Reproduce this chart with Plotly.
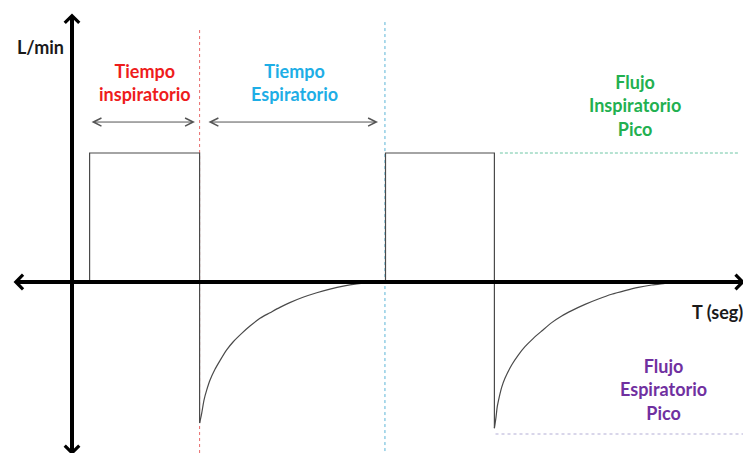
import plotly.graph_objects as go

# ---- data (time in s, flow in L/min) ----
pulse1_t = [0.16, 0.16, 1.16, 1.16]
pulse1_f = [0, 60, 60, -65.6]
decay1_t = [1.16, 1.179, 1.20, 1.225, 1.255, 1.30, 1.345, 1.406, 1.466, 1.543, 1.618,
            1.709, 1.80, 1.89, 1.98, 2.10, 2.225, 2.345, 2.466, 2.59, 2.71, 2.83]
decay1_f = [-65.6, -61.1, -54.9, -50.2, -45.6, -40.6, -36.6, -31.6, -27.8, -23.9, -20.5,
            -16.9, -14.3, -11.8, -9.6, -7.1, -5.0, -3.3, -1.9, -0.9, -0.3, 0]

pulse2_t = [2.85, 2.85, 3.84, 3.84]
pulse2_f = [0, 60, 60, -68.0]
decay2_t = [3.84, 3.855, 3.866, 3.885, 3.906, 3.936, 3.997, 4.057, 4.118, 4.194, 4.27,
            4.361, 4.452, 4.543, 4.664, 4.785, 4.906, 5.027, 5.148, 5.27, 5.39, 5.48]
decay2_f = [-68.0, -62.7, -58.0, -53.3, -49.0, -44.8, -38.6, -34.0, -30.1, -26.2, -22.8,
            -18.9, -15.8, -13.3, -10.4, -7.9, -5.7, -4.0, -2.5, -1.4, -0.6, 0]

insp_end_t = [1.16, 1.16]
insp_end_f = [117.2, -82]
exp_end_t = [2.845, 2.845]
exp_end_f = [120.9, -82]
peak_insp_t = [3.89, 6.07]
peak_insp_f = [60, 60]
peak_exp_t = [3.85, 6.2]
peak_exp_f = [-70.7, -70.7]

span_insp = [0.164, 1.118]
span_exp = [1.227, 2.782]
span_level = 74.4

x_axis_ends = [-0.545, 6.118]
y_axis_ends = [125.6, -80.5]

labels = {
    "ylab": "L/min",
    "ti": "Tiempo<br>inspiratorio",
    "te": "Tiempo<br>Espiratorio",
    "fip": "Flujo<br>Inspiratorio<br>Pico",
    "xlab": "T (seg)",
    "fep": "Flujo<br>Espiratorio<br>Pico",
}

FONT = "Lato"
fig = go.Figure()

# reference lines
fig.add_trace(go.Scatter(x=insp_end_t, y=insp_end_f, mode="lines",
                         line=dict(color="#e86a6a", width=1, dash="dot")))
fig.add_trace(go.Scatter(x=exp_end_t, y=exp_end_f, mode="lines",
                         line=dict(color="#5ab4d6", width=1, dash="dot")))
fig.add_trace(go.Scatter(x=peak_insp_t, y=peak_insp_f, mode="lines",
                         line=dict(color="#6cc6a4", width=1, dash="3px,2px")))
fig.add_trace(go.Scatter(x=peak_exp_t, y=peak_exp_f, mode="lines",
                         line=dict(color="#b4aed6", width=1.2, dash="dot")))

# waveform
wave = dict(color="#4a4a4a", width=1.2)
fig.add_trace(go.Scatter(x=pulse1_t, y=pulse1_f, mode="lines", line=wave))
fig.add_trace(go.Scatter(x=decay1_t, y=decay1_f, mode="lines",
                         line=dict(shape="spline", smoothing=0.8, **wave)))
fig.add_trace(go.Scatter(x=pulse2_t, y=pulse2_f, mode="lines", line=wave))
fig.add_trace(go.Scatter(x=decay2_t, y=decay2_f, mode="lines",
                         line=dict(shape="spline", smoothing=0.8, **wave)))

# axes drawn as arrows
fig.add_annotation(x=x_axis_ends[1], y=0, ax=x_axis_ends[0], ay=0,
                   xref="x", yref="y", axref="x", ayref="y", text="",
                   showarrow=True, arrowhead=4, startarrowhead=4, arrowside="end+start",
                   arrowwidth=4, arrowsize=0.7, startarrowsize=0.7, arrowcolor="black")
fig.add_annotation(x=0, y=y_axis_ends[1], ax=0, ay=y_axis_ends[0],
                   xref="x", yref="y", axref="x", ayref="y", text="",
                   showarrow=True, arrowhead=4, startarrowhead=4, arrowside="end+start",
                   arrowwidth=4, arrowsize=0.7, startarrowsize=0.7, arrowcolor="black")

# time span arrows
for span in (span_insp, span_exp):
    fig.add_annotation(x=span[1], y=span_level, ax=span[0], ay=span_level,
                       xref="x", yref="y", axref="x", ayref="y", text="",
                       showarrow=True, arrowhead=5, startarrowhead=5, arrowside="end+start",
                       arrowwidth=1, arrowsize=1.6, startarrowsize=1.6, arrowcolor="#555555")

def label(x, y, text, color):
    fig.add_annotation(x=x, y=y, xref="x", yref="y", text=text, showarrow=False,
                       font=dict(family=FONT, size=18, color=color, weight="bold"),
                       xanchor="center", yanchor="middle", align="center")

label(-0.282, 109.3, labels["ylab"], "#1a1a1a")
label(0.664, 93.0, labels["ti"], "#ee1c1c")
label(2.027, 93.0, labels["te"], "#1eaee6")
label(5.118, 81.9, labels["fip"], "#22b050")
label(5.87, -14.0, labels["xlab"], "#1a1a1a")
label(5.373, -50.2, labels["fep"], "#7030a0")

# the page body has an 8px margin, so the figure is 8px smaller and the
# ranges place t=0 / flow=0 at the reference position
fig.update_layout(
    width=743, height=445,
    margin=dict(l=0, r=0, t=0, b=0),
    paper_bgcolor="white", plot_bgcolor="white",
    showlegend=False,
    xaxis=dict(visible=False, range=[-64 / 110, 679 / 110], fixedrange=True),
    yaxis=dict(visible=False, range=[-171 / 2.15, 274 / 2.15], fixedrange=True),
)

fig.write_html("out.html")
